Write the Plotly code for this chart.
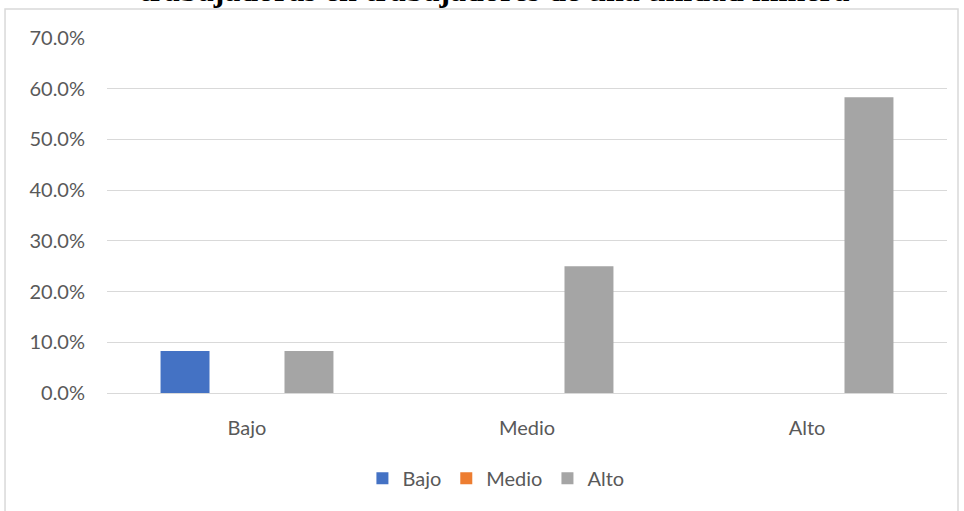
import plotly.graph_objects as go

categories = ["Bajo", "Medio", "Alto"]
series_names = ["Bajo", "Medio", "Alto"]
values_bajo = [0.083, 0.0, 0.0]
values_medio = [0.0, 0.0, 0.0]
values_alto = [0.083, 0.25, 0.583]
colors = ["#4472C4", "#ED7D31", "#A5A5A5"]
tick_vals = [0, 0.1, 0.2, 0.3, 0.4, 0.5, 0.6, 0.7]
title_text = "trabajadoras en trabajadores de una unidad minera"

fig = go.Figure()
for name, vals, c in zip(series_names, [values_bajo, values_medio, values_alto], colors):
    fig.add_trace(go.Bar(x=categories, y=vals, name=name, marker_color=c,
                         marker_line_width=0))

font_fam = "Lato, Open Sans, sans-serif"
fig.update_layout(
    width=964, height=511,
    margin=dict(l=107, r=17, t=38, b=118),
    paper_bgcolor="white", plot_bgcolor="white",
    barmode="group", bargap=0.336, bargroupgap=0.21,
    font=dict(family=font_fam, size=20, color="#595959"),
    showlegend=True,
    legend=dict(orientation="h", x=0.463, xanchor="center", y=-0.24, yanchor="middle",
                font=dict(size=20, color="#595959"), itemwidth=30, traceorder="normal"),
    xaxis=dict(showgrid=False, showline=True, linecolor="#d9d9d9", linewidth=1,
               ticks="", ticklabelstandoff=17, tickfont=dict(size=20, color="#595959")),
    yaxis=dict(range=[0, 0.7], tickvals=tick_vals, tickformat=".1%",
               showgrid=True, gridcolor="#d9d9d9", gridwidth=1,
               zeroline=False, showline=False, ticks="", ticklen=0,
               ticklabelstandoff=21,
               tickfont=dict(size=20, color="#595959")),
)

fig.add_shape(type="rect", xref="paper", yref="paper",
              x0=-0.1214, x1=1.0131, y0=-0.36, y1=1.0817,
              line=dict(color="#d9d9d9", width=1.5), fillcolor="rgba(0,0,0,0)", layer="below")

fig.add_annotation(text="<b>" + title_text + "</b>", xref="paper", yref="paper",
                   x=0.4619, y=1.082, xanchor="center", yanchor="bottom", showarrow=False,
                   borderpad=0,
                   font=dict(family="Liberation Serif, DejaVu Serif, serif", size=32, color="#000000"))

fig.write_html("out.html")
